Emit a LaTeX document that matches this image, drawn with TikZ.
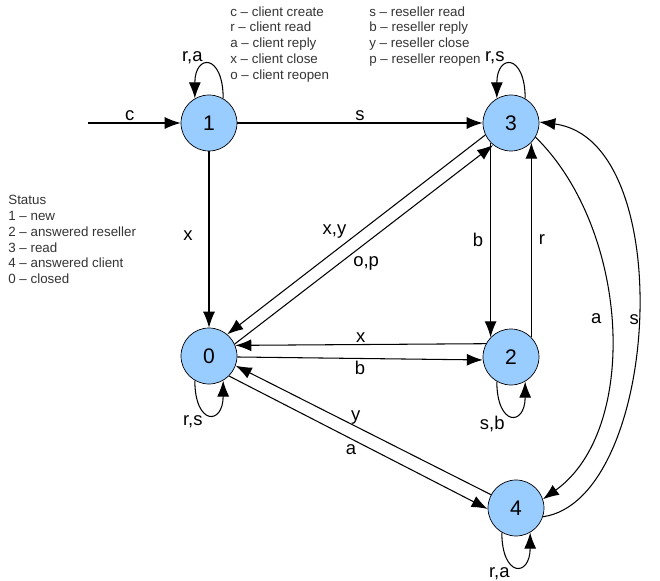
\documentclass[tikz,border=0pt]{standalone}
\usepackage{fontspec}
\setmainfont{Liberation Sans}
\usetikzlibrary{positioning, arrows.meta}
\tikzstyle{state} = [circle, draw, fill={rgb,255:red,153;green,204;blue,255}, minimum size=1.12cm, inner sep=0pt, font=\fontsize{12}{14}\selectfont]
\tikzstyle{arrow} = [semithick, -{Latex[length=3.2mm, width=2.4mm]}]
\tikzstyle{lbl} = [font=\fontsize{10.5}{12}\selectfont, inner sep=1pt]
\tikzstyle{legend} = [font=\fontsize{7.6}{9}\selectfont, align=left, anchor=north west, inner sep=0pt, text=black!80]

\begin{document}
\begin{tikzpicture}[x=0.02cm, y=-0.02cm]
  \useasboundingbox (0,0) rectangle (660,581);

  % States
  \node[state] (n1) at (209,123) {1};
  \node[state] (n3) at (511,123) {3};
  \node[state] (n0) at (209,356) {0};
  \node[state] (n2) at (511,357) {2};
  \node[state] (n4) at (516,508) {4};
  \coordinate (start) at (88,123);

  % Legends
  \node[legend] (keyc) at (230,6) {c -- client create\\r -- client read\\a -- client reply\\x -- client close\\o -- client reopen};
  \node[legend] (keyr) at (369,6) {s -- reseller read\\b -- reseller reply\\y -- reseller close\\p -- reseller reopen};
  \node[legend] (status) at (8,195) {Status\\1 -- new\\2 -- answered reseller\\3 -- read\\4 -- answered client\\0 -- closed};

  % Transitions
  \draw[arrow] (start) -- node[lbl, above, pos=0.45] {c} (n1);
  \draw[arrow] (n1) -- node[lbl, above] {s} (n3);
  \draw[arrow] (n1) -- node[lbl, left, pos=0.48, xshift=-8pt] {x} (n0);
  \draw[arrow] (n3.205) -- node[lbl, above left, pos=0.53] {x,y} (n0.50);
  \draw[arrow] (n0.25) -- node[lbl, below right, pos=0.45] {o,p} (n3.231);
  \draw[arrow] (n3.224) -- node[lbl, left, xshift=-3pt] {b} (n2.136);
  \draw[arrow] (n2.44) -- node[lbl, right, xshift=3pt] {r} (n3.316);
  \draw[arrow] (n2.152) -- node[lbl, above] {x} (n0.22);
  \draw[arrow] (n0.-2) -- node[lbl, below] {b} (n2.186);
  \draw[arrow] (n4.152) -- node[lbl, above, pos=0.53] {y} (n0.-20);
  \draw[arrow] (n0.-45) -- node[lbl, below left, pos=0.5] {a} (n4.182);
  \draw[arrow] (n3.-30) .. controls (630,230) and (640,430) .. node[lbl, left, pos=0.48, xshift=-4pt] {a} (n4.18);
  \draw[arrow] (n4.-18) .. controls (660,500) and (680,140) .. node[lbl, right, pos=0.5, xshift=-6pt] {s} (n3.2);

  % Loops
  \draw[arrow] (n1.60) .. controls +(0,-45) and +(0,-45) .. node[lbl, above left, pos=0.6] {r,a} (n1.120);
  \draw[arrow] (n3.60) .. controls +(0,-45) and +(0,-45) .. node[lbl, above left, pos=0.6] {r,s} (n3.120);
  \draw[arrow] (n0.240) .. controls +(0,45) and +(0,45) .. node[lbl, below left, pos=0.4] {r,s} (n0.300);
  \draw[arrow] (n2.240) .. controls +(0,45) and +(0,45) .. node[lbl, below left, pos=0.4] {s,b} (n2.300);
  \draw[arrow] (n4.240) .. controls +(0,45) and +(0,45) .. node[lbl, below left, pos=0.4] {r,a} (n4.300);
\end{tikzpicture}
\end{document}
